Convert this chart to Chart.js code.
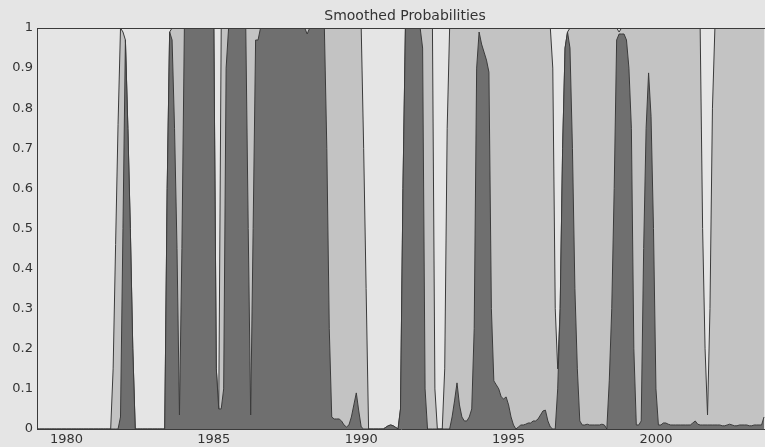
<!DOCTYPE html>
<html>
<head>
<meta charset="utf-8">
<title>Smoothed Probabilities</title>
<script src="https://cdn.jsdelivr.net/npm/chart.js@4.4.1/dist/chart.umd.min.js"></script>
<style>
  html, body { margin: 0; padding: 0; background: #e5e5e5; }
  #wrap { position: relative; width: 765px; height: 447px; }
</style>
</head>
<body>
<div id="wrap"><canvas id="probs"></canvas></div>
<script>
// monthly series, first value is January 1979
var startYear = 1979;
var yearTicks = [1980, 1985, 1990, 1995, 2000];

// regime 1 (dark)
var dark = [
  0, 0, 0, 0, 0, 0, 0, 0, 0, 0, 0, 0,
  0, 0, 0, 0, 0, 0, 0, 0, 0, 0, 0, 0,
  0, 0, 0, 0, 0, 0, 0, 0, 0, 0, 0.03, 0.5,
  0.97, 0.75, 0.5, 0.2, 0, 0, 0, 0, 0, 0, 0, 0,
  0, 0, 0, 0, 0, 0.6, 0.99, 0.97, 0.75, 0.45, 0.035, 0.45,
  1, 1, 1, 1, 1, 1, 1, 1, 1, 1, 1, 1,
  1, 0.15, 0.05, 0.05, 0.1, 0.9, 1, 1, 1, 1, 1, 1,
  1, 1, 0.5, 0.035, 0.5, 0.97, 0.97, 1, 1, 1, 1, 1,
  1, 1, 1, 1, 1, 1, 1, 1, 1, 1, 1, 1,
  1, 1, 0.985, 1, 1, 1, 1, 1, 1, 1, 0.7, 0.25,
  0.03, 0.025, 0.025, 0.025, 0.02, 0.01, 0.005, 0.01, 0.03, 0.06, 0.09, 0.045,
  0.005, 0, 0, 0, 0, 0, 0, 0, 0, 0, 0.004, 0.008,
  0.01, 0.008, 0.004, 0, 0.05, 0.6, 1, 1, 1, 1, 1, 1,
  1, 0.95, 0.1, 0, 0, 0, 0, 0, 0, 0, 0, 0,
  0, 0.03, 0.07, 0.115, 0.06, 0.03, 0.02, 0.02, 0.03, 0.05, 0.25, 0.9,
  0.99, 0.96, 0.94, 0.92, 0.89, 0.3, 0.12, 0.11, 0.1, 0.08, 0.075, 0.08,
  0.06, 0.03, 0.01, 0, 0.005, 0.01, 0.01, 0.012, 0.015, 0.015, 0.02, 0.02,
  0.025, 0.035, 0.045, 0.047, 0.02, 0.005, 0, 0, 0.1, 0.3, 0.7, 0.95,
  0.99, 0.95, 0.7, 0.35, 0.15, 0.02, 0.01, 0.01, 0.012, 0.01, 0.01, 0.01,
  0.01, 0.01, 0.012, 0.01, 0, 0.12, 0.3, 0.6, 0.97, 0.985, 0.985, 0.985,
  0.97, 0.9, 0.75, 0.2, 0.01, 0.01, 0.02, 0.45, 0.75, 0.888, 0.78, 0.5,
  0.1, 0.01, 0.01, 0.015, 0.015, 0.012, 0.01, 0.01, 0.01, 0.01, 0.01, 0.01,
  0.01, 0.01, 0.01, 0.015, 0.02, 0.012, 0.01, 0.01, 0.01, 0.01, 0.01, 0.01,
  0.01, 0.01, 0.01, 0.008, 0.008, 0.01, 0.012, 0.01, 0.008, 0.008, 0.01, 0.01,
  0.01, 0.01, 0.008, 0.008, 0.01, 0.01, 0.01, 0.01, 0.03
];

// regime 2 (light grey), sits on top of regime 1
var light = [
  0, 0, 0, 0, 0, 0, 0, 0, 0, 0, 0, 0,
  0, 0, 0, 0, 0, 0, 0, 0, 0, 0, 0, 0,
  0, 0, 0, 0, 0, 0, 0, 0.15, 0.46, 0.76, 0.97, 0.49,
  0, 0, 0, 0, 0, 0, 0, 0, 0, 0, 0, 0,
  0, 0, 0, 0, 0, 0, 0, 0.03, 0.25, 0.55, 0.965, 0.55,
  0, 0, 0, 0, 0, 0, 0, 0, 0, 0, 0, 0,
  0, 0, 0, 0.95, 0.9, 0.1, 0, 0, 0, 0, 0, 0,
  0, 0, 0.5, 0.965, 0.5, 0.03, 0.03, 0, 0, 0, 0, 0,
  0, 0, 0, 0, 0, 0, 0, 0, 0, 0, 0, 0,
  0, 0, 0.015, 0, 0, 0, 0, 0, 0, 0, 0.3, 0.75,
  0.97, 0.975, 0.975, 0.975, 0.98, 0.99, 0.995, 0.99, 0.97, 0.94, 0.91, 0.955,
  0.995, 0.7, 0.35, 0, 0, 0, 0, 0, 0, 0, 0, 0,
  0, 0, 0, 0, 0, 0, 0, 0, 0, 0, 0, 0,
  0, 0.05, 0.9, 1, 1, 1, 0.1, 0, 0, 0, 0.15, 0.75,
  1, 0.97, 0.93, 0.885, 0.94, 0.97, 0.98, 0.98, 0.97, 0.95, 0.75, 0.1,
  0.01, 0.04, 0.06, 0.08, 0.11, 0.7, 0.88, 0.89, 0.9, 0.92, 0.925, 0.92,
  0.94, 0.97, 0.99, 1, 0.995, 0.99, 0.99, 0.988, 0.985, 0.985, 0.98, 0.98,
  0.975, 0.965, 0.955, 0.953, 0.98, 0.995, 0.9, 0.3, 0.05, 0, 0, 0,
  0, 0.05, 0.3, 0.65, 0.85, 0.98, 0.99, 0.99, 0.988, 0.99, 0.99, 0.99,
  0.99, 0.99, 0.988, 0.99, 1, 0.88, 0.7, 0.4, 0.03, 0.005, 0.015, 0.015,
  0.03, 0.1, 0.25, 0.8, 0.99, 0.99, 0.98, 0.55, 0.25, 0.112, 0.22, 0.5,
  0.9, 0.99, 0.99, 0.985, 0.985, 0.988, 0.99, 0.99, 0.99, 0.99, 0.99, 0.99,
  0.99, 0.99, 0.99, 0.985, 0.98, 0.988, 0.99, 0.49, 0.19, 0.025, 0.29, 0.79,
  0.99, 0.99, 0.99, 0.992, 0.992, 0.99, 0.988, 0.99, 0.992, 0.992, 0.99, 0.99,
  0.99, 0.99, 0.992, 0.992, 0.99, 0.99, 0.99, 0.99, 0.97
];

var outline = "#3a3a3a";
var textColor = "#333333";
var tickFont = { family: "DejaVu Sans", size: 13 };

function toPoints(values) {
  return values.map(function (v, i) {
    return { x: startYear + i / 12, y: v };
  });
}

// upper edge of the light band = regime 1 + regime 2
var upper = dark.map(function (v, i) { return v + light[i]; });

// title and top frame line
var frame = {
  id: "frame",
  afterDraw: function (chart) {
    var ctx = chart.ctx;
    var area = chart.chartArea;
    ctx.save();
    ctx.strokeStyle = outline;
    ctx.lineWidth = 1;
    ctx.beginPath();
    ctx.moveTo(area.left, area.top + 0.5);
    ctx.lineTo(area.right, area.top + 0.5);
    ctx.stroke();
    ctx.fillStyle = textColor;
    ctx.font = "14px 'DejaVu Sans'";
    ctx.textAlign = "center";
    ctx.textBaseline = "alphabetic";
    ctx.fillText("Smoothed Probabilities", (area.left + area.right) / 2 + 4, 20);
    ctx.restore();
  }
};

var ctx = document.getElementById("probs").getContext("2d");
var probChart = new Chart(ctx, {
  type: "line",
  data: {
    datasets: [{
        label: "Regime 1",
        data: toPoints(dark),
        backgroundColor: "#6f6f6f",
        borderColor: outline,
        borderWidth: 1,
        fill: "origin"
      },
      {
        label: "Regime 2",
        data: toPoints(upper),
        backgroundColor: "#c3c3c3",
        borderColor: outline,
        borderWidth: 1,
        fill: "-1"
      }
    ]
  },
  options: {
    responsive: true,
    maintainAspectRatio: false,
    animation: false,
    layout: { padding: { top: 28, right: 0, left: 0, bottom: 0 } },
    elements: { point: { radius: 0 }, line: { tension: 0 } },
    plugins: {
      legend: { display: false },
      tooltip: { enabled: false },
      title: { display: false }
    },
    scales: {
      x: {
        type: "linear",
        min: startYear,
        max: startYear + 296.4 / 12,
        grid: { display: false, drawTicks: false },
        border: { display: true, color: outline, width: 1 },
        afterBuildTicks: function (scale) {
          scale.ticks = yearTicks.map(function (y) { return { value: y }; });
        },
        afterFit: function (scale) { scale.height = 18; },
        ticks: {
          padding: 3,
          color: textColor,
          font: tickFont,
          maxRotation: 0,
          callback: function (v) { return String(v); }
        }
      },
      y: {
        min: 0,
        max: 1,
        grid: { display: false, drawTicks: false },
        border: { display: true, color: outline, width: 1 },
        afterFit: function (scale) { scale.width = 37; },
        ticks: {
          stepSize: 0.1,
          padding: 4,
          color: textColor,
          font: tickFont,
          // 0, 0.1 ... 0.9, 1
          callback: function (v) { return String(Math.round(v * 10) / 10); }
        }
      }
    }
  },
  plugins: [frame]
});
</script>
</body>
</html>
